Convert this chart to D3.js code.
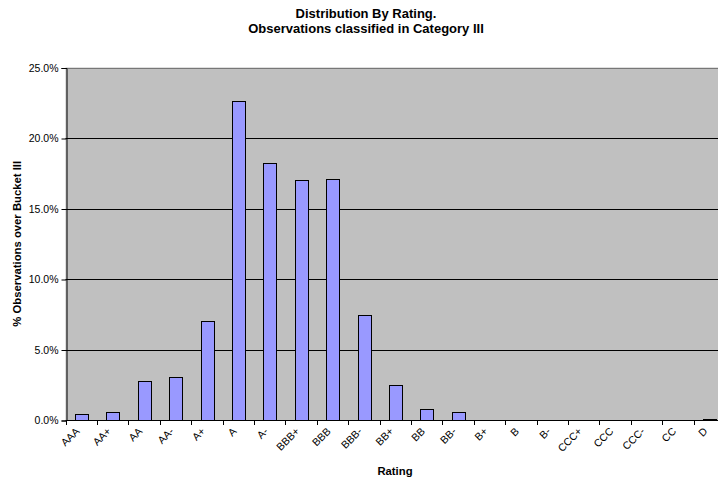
<!DOCTYPE html>
<html>
<head>
<meta charset="utf-8">
<script src="https://cdn.jsdelivr.net/npm/d3@7/dist/d3.min.js"></script>
<style>
  html, body { margin: 0; padding: 0; background: #fff; }
  svg { display: block; font-family: Arial, "Liberation Sans", sans-serif; }
</style>
</head>
<body>
<svg id="chart" width="718" height="485"></svg>
<script>
// Rating buckets, in order from best to worst
const ratings = ["AAA", "AA+", "AA", "AA-", "A+", "A", "A-", "BBB+", "BBB", "BBB-",
                 "BB+", "BB", "BB-", "B+", "B", "B-", "CCC+", "CCC", "CCC-", "CC", "D"];
// Share of observations in each bucket (percent)
const shares = [0.46, 0.55, 2.77, 3.08, 7.05, 22.6, 18.25, 17.0, 17.08, 7.45,
                2.5, 0.76, 0.6, 0, 0, 0, 0, 0, 0, 0, 0.05];
// Value-axis ticks (percent)
const yTicks = [0, 5, 10, 15, 20, 25];

const titleLines = ["Distribution By Rating.", "Observations classified in Category III"];
const yTitle = "% Observations over Bucket III";
const xTitle = "Rating";

const svg = d3.select("#chart");

const plot = { left: 65.5, top: 67.5, bottom: 420, bandW: 31.4 };
// one empty slot is kept after the last bucket, so the plot runs past the window edge
const slots = ratings.length + 1;
plot.right = plot.left + slots * plot.bandW;

const x = d3.scaleBand()
  .domain(d3.range(slots))
  .range([plot.left, plot.right])
  .paddingInner(0.6)
  .paddingOuter(0.3);

const y = d3.scaleLinear().domain([0, 25]).range([plot.bottom, plot.top]);

// plot background
svg.append("rect")
  .attr("x", plot.left).attr("y", plot.top)
  .attr("width", plot.right - plot.left).attr("height", plot.bottom - plot.top)
  .attr("fill", "#c0c0c0");

// horizontal gridlines
svg.append("g")
  .selectAll("line")
  .data(yTicks.filter(d => d > 0 && d < 25))
  .join("line")
  .attr("x1", plot.left).attr("x2", plot.right)
  .attr("y1", d => Math.round(y(d)) + 0.5).attr("y2", d => Math.round(y(d)) + 0.5)
  .attr("stroke", "#000").attr("stroke-width", 1);

// top border of plot
svg.append("line")
  .attr("x1", plot.left).attr("x2", plot.right)
  .attr("y1", Math.round(plot.top) + 0.5).attr("y2", Math.round(plot.top) + 0.5)
  .attr("stroke", "#777").attr("stroke-width", 1);

// bars
svg.append("g")
  .selectAll("rect")
  .data(shares)
  .join("rect")
  .attr("x", (d, i) => Math.round(x(i)) + 0.5)
  .attr("y", d => Math.round(y(d)) + 0.5)
  .attr("width", Math.round(x.bandwidth()))
  .attr("height", d => Math.max(0, Math.round(y(0)) - Math.round(y(d))))
  .attr("fill", "#9999ff")
  .attr("stroke", "#000")
  .attr("stroke-width", 1);

// y axis
const yAxis = d3.axisLeft(y)
  .tickValues(yTicks)
  .tickFormat(d => d.toFixed(1) + "%")
  .tickSize(5)
  .tickPadding(3);
const gy = svg.append("g")
  .attr("transform", `translate(${Math.round(plot.left) + 0.5},0.5)`)
  .call(yAxis);
gy.select(".domain").attr("stroke", "#000");
gy.selectAll(".tick line").attr("stroke", "#000");
gy.selectAll("text").attr("font-size", 10.5).attr("fill", "#000")
  .attr("font-family", "Arial, 'Liberation Sans', sans-serif");

// x axis: ticks at band boundaries, labels under band centres
const boundary = d3.scaleLinear().domain([0, slots]).range([plot.left, plot.right]);
const gx = svg.append("g");
gx.append("line")
  .attr("x1", plot.left).attr("x2", plot.right)
  .attr("y1", Math.round(plot.bottom) + 0.5).attr("y2", Math.round(plot.bottom) + 0.5)
  .attr("stroke", "#000");
gx.selectAll(".xt")
  .data(d3.range(slots + 1))
  .join("line")
  .attr("class", "xt")
  .attr("x1", d => Math.round(boundary(d)) + 0.5).attr("x2", d => Math.round(boundary(d)) + 0.5)
  .attr("y1", Math.round(plot.bottom)).attr("y2", Math.round(plot.bottom) + 5)
  .attr("stroke", "#000");
gx.selectAll(".xl")
  .data(ratings)
  .join("text")
  .attr("class", "xl")
  .attr("transform", (d, i) => {
    const cx = x(i) + x.bandwidth() / 2;
    return `translate(${cx - 1},${plot.bottom + 12}) rotate(-45)`;
  })
  .attr("text-anchor", "end")
  .attr("font-size", 10.5)
  .attr("fill", "#000")
  .text(d => d);

// titles
svg.append("g")
  .selectAll("text")
  .data(titleLines)
  .join("text")
  .attr("x", 366)
  .attr("y", (d, i) => 18 + i * 14.5)
  .attr("text-anchor", "middle")
  .attr("font-size", 13)
  .attr("font-weight", "bold")
  .text(d => d);

svg.append("text")
  .attr("transform", `translate(21,${(plot.top + plot.bottom) / 2}) rotate(-90)`)
  .attr("text-anchor", "middle")
  .attr("font-size", 11.3)
  .attr("font-weight", "bold")
  .text(yTitle);

svg.append("text")
  .attr("x", 395)
  .attr("y", 475)
  .attr("text-anchor", "middle")
  .attr("font-size", 11.3)
  .attr("font-weight", "bold")
  .text(xTitle);
</script>
</body>
</html>
